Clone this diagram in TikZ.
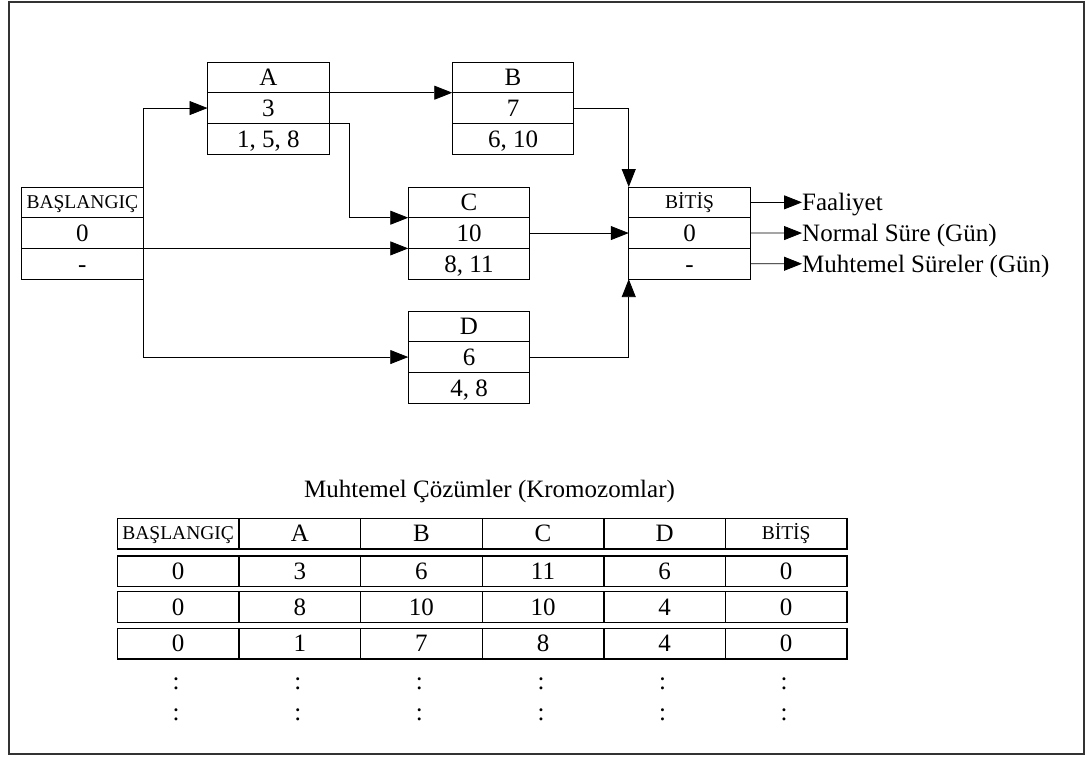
\documentclass[tikz,border=0pt]{standalone}
\usepackage{fontspec}
\setmainfont{Liberation Serif}
\usetikzlibrary{arrows.meta}
\tikzset{
  cell/.style={draw, line width=1pt, minimum width=121.5pt, minimum height=30.7pt,
    inner sep=0pt, outer sep=0pt, text height=16.5pt, text depth=0pt,
    font=\fontsize{25}{28}\selectfont},
  smallcell/.style={cell, text height=12.5pt, font=\fontsize{19.5}{22}\selectfont},
  tcell/.style={cell, line width=1.4pt, minimum width=121.6pt},
  tsmall/.style={smallcell, line width=1.4pt, minimum width=121.6pt},
  arr/.style={line width=0.8pt, -{Triangle[length=18pt,width=14pt]}},
  lbl/.style={anchor=west, inner sep=0pt, text height=16.5pt, text depth=0pt,
    font=\fontsize{25}{28}\selectfont},
  dotlbl/.style={inner sep=0pt, font=\fontsize{25}{28}\selectfont},
}
\begin{document}
\begin{tikzpicture}[x=1pt,y=-1pt]
\useasboundingbox (0,0) rectangle (1087,756);
\draw[line width=2pt, black!80] (9,2) rectangle (1084,754);

% BASLANGIC
\node[smallcell] (S1) at (82.3,202.35) {BAŞLANGIÇ};
\node[cell, anchor=north] (S2) at (S1.south) {0};
\node[cell, anchor=north] (S3) at (S2.south) {-};
% A
\node[cell] (A1) at (268.3,77.35) {A};
\node[cell, anchor=north] (A2) at (A1.south) {3};
\node[cell, anchor=north] (A3) at (A2.south) {1, 5, 8};
% B
\node[cell] (B1) at (513,77.35) {B};
\node[cell, anchor=north] (B2) at (B1.south) {7};
\node[cell, anchor=north] (B3) at (B2.south) {6, 10};
% C
\node[cell] (C1) at (469,202.35) {C};
\node[cell, anchor=north] (C2) at (C1.south) {10};
\node[cell, anchor=north] (C3) at (C2.south) {8, 11};
% D
\node[cell] (D1) at (469,326.35) {D};
\node[cell, anchor=north] (D2) at (D1.south) {6};
\node[cell, anchor=north] (D3) at (D2.south) {4, 8};
% BITIS
\node[smallcell] (E1) at (689.5,202.35) {BİTİŞ};
\node[cell, anchor=north] (E2) at (E1.south) {0};
\node[cell, anchor=north] (E3) at (E2.south) {-};

% labels
\node[lbl] (L1) at (802,202.35) {Faaliyet};
\node[lbl] (L2) at (802,233.05) {Normal Süre (Gün)};
\node[lbl] (L3) at (802,263.75) {Muhtemel Süreler (Gün)};

% connectors
\draw[arr] (S1.north east) |- (A2.west);
\draw[arr] (S3.south east) |- (D2.west);
\draw[arr] (S2.south east) -- (C2.south west);
\draw[arr] (A1.south east) -- (B1.south west);
\draw[arr] (A2.south east) -- ++(20.5,0) |- (C1.south west);
\draw[arr] (B2.east) -| (E1.north west);
\draw[arr] (C2.east) -- (E2.west);
\draw[arr] (D2.east) -| (E3.south west);
\draw[arr] (E1.east) -- (L1.west);
\draw[arr] (E2.east) -- (L2.west);
\draw[arr] (E3.east) -- (L3.west);

% table
\node[dotlbl] (title) at (489.5,491.5) {Muhtemel Çözümler (Kromozomlar)};
\node[tsmall] (H1) at (178.2,533.65) {BAŞLANGIÇ};
\node[tcell] (H2) at (299.8,533.65) {A};
\node[tcell] (H3) at (421.4,533.65) {B};
\node[tcell] (H4) at (543.0,533.65) {C};
\node[tcell] (H5) at (664.6,533.65) {D};
\node[tsmall] (H6) at (786.2,533.65) {BİTİŞ};
\foreach \rr/\yy/\pa/\pb/\pc/\pd/\pe/\pf in
  {1/571.15/0/3/6/11/6/0, 2/606.95/0/8/10/10/4/0, 3/643.65/0/1/7/8/4/0} {
  \foreach \vv [count=\ii] in {\pa,\pb,\pc,\pd,\pe,\pf} {
    \node[tcell] (R\rr-\ii) at ({117.4+121.6*(\ii-0.5)},\yy) {\vv};
  }
}
\foreach \ii in {1,...,6} {
  \node[dotlbl] (Da\ii) at ({117.4+121.6*(\ii-0.5)-2},684) {:};
  \node[dotlbl] (Db\ii) at ({117.4+121.6*(\ii-0.5)-2},715) {:};
}
\end{tikzpicture}
\end{document}
